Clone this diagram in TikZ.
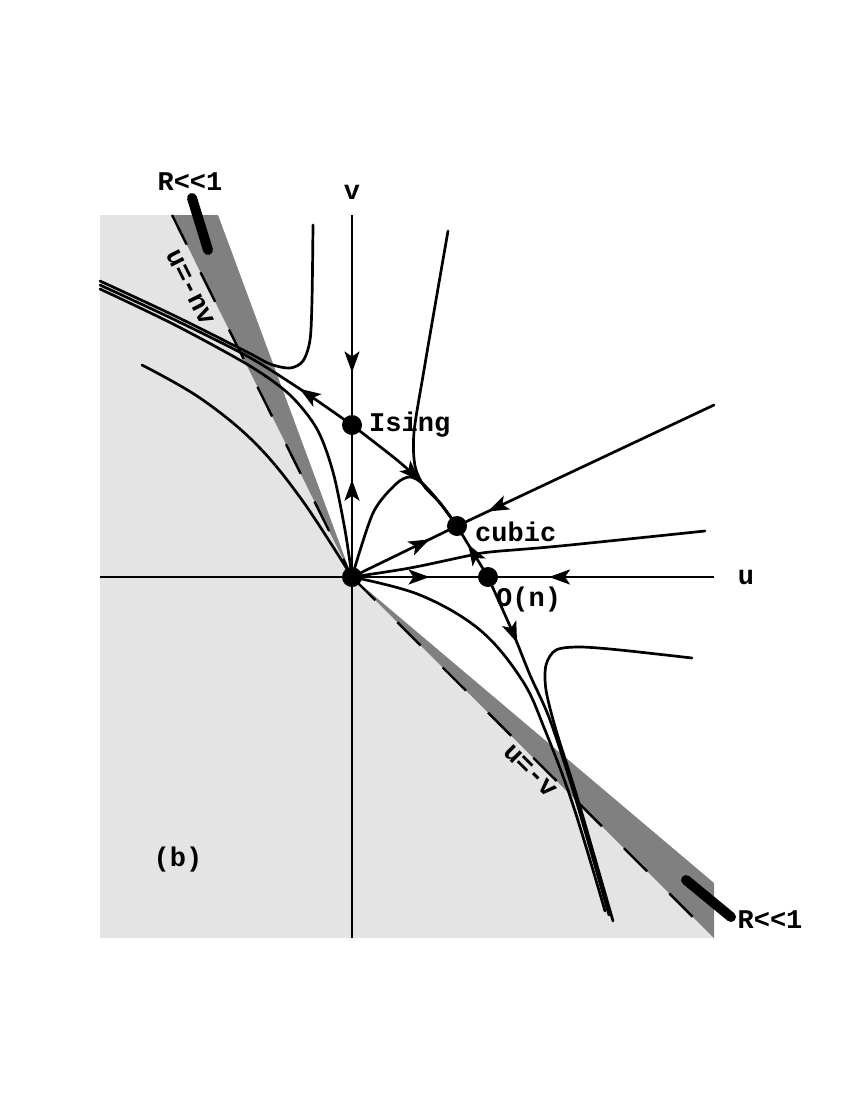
\documentclass[tikz,border=0pt]{standalone}
\usepackage{fontspec}
\setmonofont{Liberation Mono}
\usetikzlibrary{arrows.meta,decorations.markings}
\definecolor{lightg}{RGB}{228,228,228}
\definecolor{darkg}{RGB}{128,128,128}
\tikzset{
  flow/.style={line width=2.7pt,line cap=round,line join=round},
  axisline/.style={line width=2.5pt},
  dashln/.style={line width=2.4pt,dash pattern=on 33pt off 31pt},
  thickbar/.style={line width=10pt,line cap=round},
  fp/.style={circle,fill=black,inner sep=0pt,minimum size=20pt},
  lab/.style={font=\fontsize{27}{30}\selectfont\ttfamily\bfseries,inner sep=0pt},
  arr/.style={postaction={decorate,decoration={markings,mark=at position #1 with {\arrow{Stealth[length=21pt,width=15pt,inset=5pt]}}}}}
}
\begin{document}
\begin{tikzpicture}[x=1pt,y=-1pt]
\useasboundingbox (0,0) rectangle (850,1100);
% coordinates
\coordinate (o) at (352,577);
\coordinate (vtop) at (352,215);
\coordinate (vbot) at (352,938);
\coordinate (ul) at (100,577);
\coordinate (ur) at (714,577);
\coordinate (tl) at (100,215);
\coordinate (bl) at (100,938);
\coordinate (br) at (714,938);
\coordinate (bandA) at (172,215);
\coordinate (bandB) at (218,215);
\coordinate (bandC) at (714,883);
\coordinate (rt) at (714,405);
% regions
\fill[lightg] (tl) -- (bandA) -- (o) -- (br) -- (bl) -- cycle;
\fill[darkg] (bandA) -- (bandB) -- (o) -- cycle;
\fill[darkg] (o) -- (bandC) -- (br) -- cycle;
\draw[dashln] (bandA) -- (o);
\draw[dashln] (o) -- (br);
% thick bars
\coordinate (tb1) at (192,198);
\coordinate (tb2) at (208,250);
\coordinate (bb1) at (686,880);
\coordinate (bb2) at (731,917);
\draw[thickbar] (tb1) -- (tb2);
\draw[thickbar] (bb1) -- (bb2);
% fixed points
\node[fp] (is) at (352,425) {};
\node[fp] (cu) at (457,526) {};
\node[fp] (on) at (488,577) {};
\node[fp] (or) at (o) {};
% axes
\draw[axisline,arr=0.75] (vtop) -- (is.center);
\draw[axisline,arr=0.64] (or.center) -- (is.center);
\draw[axisline] (or.center) -- (vbot);
\draw[axisline] (ul) -- (or.center);
\draw[axisline,arr=0.57] (or.center) -- (on.center);
\draw[axisline,arr=0.73] (ur) -- (on.center);
% upper-left bundle
\draw[flow,arr=0.22] plot[smooth] coordinates {(is.center) (300,389) (247,356) (173,319) (100,285)};
\draw[flow] plot[smooth] coordinates {(or.center) (345,530) (333,472) (317,429) (290,395) (250,366) (175,325) (100,289)};
\draw[flow] plot[smooth] coordinates {(313,225) (312,300) (310,340) (303,361) (290,368) (270,364) (247,352) (173,315) (100,281)};
\draw[flow] plot[smooth,tension=0.6] coordinates {(142,365) (200,398) (255,443) (302,500) (or.center)};
% ising -> cubic and merging curves
\draw[flow,arr=0.6] plot[smooth] coordinates {(is.center) (397,460) (420,481) (440,503) (cu.center)};
\draw[flow] plot[smooth] coordinates {(448,231) (436,300) (424,370) (414,432) (415,466) (424,486) (440,503) (cu.center)};
\draw[flow] plot[smooth] coordinates {(or.center) (373,513) (396,484) (410,477) (423,484) (440,503) (cu.center)};
\draw[flow,arr=0.74] (or.center) -- (cu.center);
\draw[flow,arr=0.88] (rt) -- (cu.center);
\draw[flow,arr=0.64] (on.center) -- (cu.center);
\draw[flow] plot[smooth] coordinates {(or.center) (410,568) (467,556) (490,552) (560,546) (705,531)};
% lower-right bundle
\draw[flow,arr=0.2] plot[smooth] coordinates {(on.center) (513,633) (530,675) (550,720) (576,800) (609,915)};
\draw[flow] plot[smooth,tension=0.6] coordinates {(or.center) (420,595) (480,630) (522,680) (545,730) (573,805) (605,911)};
\draw[flow] plot[smooth] coordinates {(692,658) (620,650) (580,647) (556,650) (546,665) (546,690) (556,730) (578,800) (613,921)};
% labels
\node[lab] (lv) at (352,192) {v};
\node[lab] (lu) at (746,577) {u};
\node[lab,anchor=west] (lis) at (369,425) {Ising};
\node[lab,anchor=west] (lcu) at (475,532) {cubic};
\node[lab,anchor=west] (lon) at (496,600) {O(n)};
\node[lab] (lb) at (178,860) {(b)};
\node[lab] (r1) at (190,182) {R<<1};
\node[lab] (r2) at (770,920) {R<<1};
\node[lab,rotate=-63.4] (lnv) at (190,288) {u=-nv};
\node[lab,rotate=-45] (lvv) at (530,771) {u=-v};
\end{tikzpicture}
\end{document}
